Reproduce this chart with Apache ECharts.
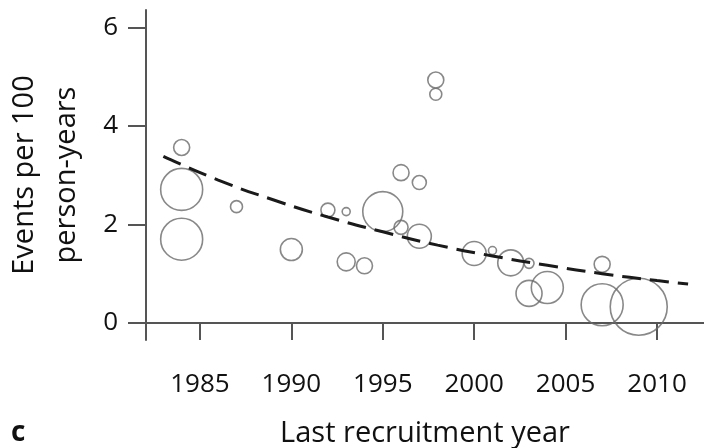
<!DOCTYPE html>
<html>
<head>
<meta charset="utf-8">
<script src="https://cdn.jsdelivr.net/npm/echarts@6/dist/echarts.min.js"></script>
<style>
  html, body { margin: 0; padding: 0; background: #fff; }
  #chart { width: 704px; height: 448px; }
</style>
</head>
<body>
<div id="chart"></div>
<script>
// ---- data ----
const studyYears = [1984, 1984, 1984, 1987, 1990, 1992, 1993, 1993, 1994, 1995, 1996, 1996, 1997, 1997, 1997.9, 1997.9, 2000, 2001, 2002, 2003, 2003, 2004, 2007, 2007, 2009];
const eventRates = [3.56, 2.71, 1.70, 2.36, 1.49, 2.29, 2.26, 1.24, 1.16, 2.26, 3.05, 1.94, 2.85, 1.76, 4.93, 4.64, 1.41, 1.47, 1.22, 1.21, 0.60, 0.72, 1.19, 0.37, 0.33];
const studyWeights = [8, 21, 21, 6, 11, 7, 4, 9, 8, 20, 8, 7, 7, 12, 8, 6, 12, 4, 13, 5, 13, 16, 8, 21, 28.5];

const trendYears = [1983.0, 1986, 1989, 1992, 1995, 1998, 2001, 2004, 2007, 2010, 2011.7];
const trendRates = [3.38, 2.90, 2.50, 2.15, 1.85, 1.58, 1.36, 1.17, 1.00, 0.86, 0.79];

const xTicks = [1985, 1990, 1995, 2000, 2005, 2010];
const yTicks = [0, 2, 4, 6];

const xTitle = 'Last recruitment year';
const yTitle = 'Events per 100\nperson-years';
const panelLabel = 'c';

// ---- build ----
const studies = studyYears.map((y, i) => [y, eventRates[i], studyWeights[i]]);
const trend = trendYears.map((y, i) => [y, trendRates[i]]);

const axisColor = '#555';
const textColor = '#111';
const font = 'Open Sans';

const chart = echarts.init(document.getElementById('chart'), null, { renderer: 'canvas' });
chart.setOption({
  animation: false,
  backgroundColor: '#ffffff',
  grid: { left: 146, right: 0, top: 10, bottom: 108, containLabel: false, outerBoundsMode: 'none' },
  xAxis: {
    type: 'value',
    min: 1982.05,
    max: 2012.57,
    splitLine: { show: false },
    axisLine: { show: true, lineStyle: { color: axisColor, width: 2 } },
    axisTick: { show: true, customValues: xTicks, length: 17, lineStyle: { color: axisColor, width: 2 } },
    axisLabel: { customValues: xTicks, formatter: v => String(v), margin: 32, color: textColor, fontFamily: font, fontSize: 26 },
    name: xTitle,
    nameLocation: 'middle',
    nameGap: 79,
    nameTextStyle: { color: textColor, fontFamily: font, fontSize: 29 }
  },
  yAxis: {
    type: 'value',
    min: -0.345,
    max: 6.35,
    splitLine: { show: false },
    axisLine: { show: true, lineStyle: { color: axisColor, width: 2 } },
    axisTick: { show: true, customValues: yTicks, length: 18, lineStyle: { color: axisColor, width: 2 } },
    axisLabel: { customValues: yTicks, formatter: v => String(v), margin: 28, color: textColor, fontFamily: font, fontSize: 26 },
    name: yTitle,
    nameLocation: 'middle',
    nameRotate: 90,
    nameGap: 58,
    nameTextStyle: { color: textColor, fontFamily: font, fontSize: 29, lineHeight: 42 }
  },
  series: [
    {
      type: 'line',
      data: trend,
      smooth: true,
      showSymbol: false,
      symbol: 'none',
      z: 3,
      lineStyle: { color: '#1a1a1a', width: 3, type: [19, 9] }
    },
    {
      type: 'scatter',
      data: studies,
      symbol: 'circle',
      symbolSize: d => d[2] * 2,
      z: 2,
      itemStyle: { color: 'rgba(255,255,255,0)', borderColor: '#6a6a6a', borderWidth: 1.6 }
    }
  ],
  graphic: [
    {
      type: 'text',
      left: 11,
      top: 419,
      style: { text: panelLabel, fill: textColor, font: 'bold 28px "Open Sans"' }
    }
  ]
});
</script>
</body>
</html>
